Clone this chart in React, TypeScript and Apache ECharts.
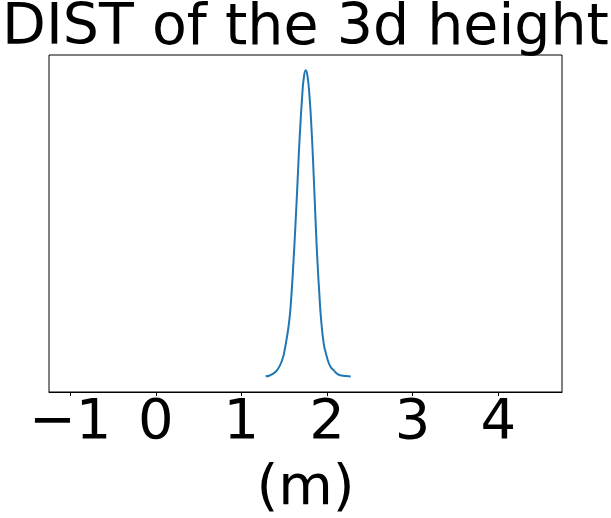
import React, { useEffect, useRef } from "react";
import * as echarts from "echarts";

const TITLE = "DIST of the 3d height";
const X_LABEL = "(m)";
const X_TICKS = [-1, 0, 1, 2, 3, 4];
const X_MIN = -1.248;
const X_MAX = 4.745;

// KDE curve (x in m, density)
const CURVE_X = [
  1.283, 1.33, 1.38, 1.412, 1.45, 1.48, 1.497, 1.53, 1.559, 1.58, 1.602, 1.63,
  1.657, 1.68, 1.711, 1.73, 1.751, 1.77, 1.793, 1.82, 1.84, 1.87, 1.887, 1.91,
  1.93, 1.96, 1.988, 2.02, 2.05, 2.082, 2.12, 2.17, 2.22, 2.277,
];
const CURVE_Y = [
  0.004, 0.015, 0.045, 0.075, 0.14, 0.22, 0.286, 0.48, 0.695, 0.95, 1.316, 1.86,
  2.45, 2.96, 3.5, 3.72, 3.8, 3.74, 3.51, 3.05, 2.6, 1.84, 1.45, 1.03, 0.72,
  0.42, 0.286, 0.17, 0.11, 0.075, 0.035, 0.015, 0.007, 0.003,
];
const Y_PEAK = 3.8;

export default function App() {
  const ref = useRef<HTMLDivElement>(null);
  useEffect(() => {
    if (!ref.current) return;
    const chart = echarts.init(ref.current, null, { renderer: "svg" });
    const font = "DejaVu Sans";
    chart.setOption({
      animation: false,
      backgroundColor: "#ffffff",
      title: {
        text: TITLE,
        left: "center",
        top: -10,
        textStyle: { fontFamily: font, fontSize: 57, fontWeight: "normal", color: "#000" },
      },
      grid: {
        left: 49,
        right: 49,
        top: 55,
        bottom: 126,
        containLabel: false,
        outerBoundsMode: "none",
        show: true,
        borderColor: "#000",
        borderWidth: 1,
        backgroundColor: "transparent",
      },
      xAxis: {
        type: "value",
        min: X_MIN,
        max: X_MAX,
        name: X_LABEL,
        nameLocation: "middle",
        nameGap: 64,
        nameTextStyle: { fontFamily: font, fontSize: 56, color: "#000" },
        axisLine: { show: true, onZero: false, lineStyle: { color: "#000", width: 1 } },
        axisTick: {
          show: true,
          length: 4,
          customValues: X_TICKS,
          lineStyle: { color: "#000", width: 1 },
        },
        axisLabel: {
          show: true,
          customValues: X_TICKS,
          margin: -2,
          fontFamily: font,
          fontSize: 56,
          color: "#000",
          formatter: (v: number) => (v < 0 ? "\u2212" + Math.abs(v) : String(v)),
        },
        splitLine: { show: false },
      },
      yAxis: {
        type: "value",
        min: -0.05 * Y_PEAK,
        max: 1.05 * Y_PEAK,
        axisLine: { show: false },
        axisTick: { show: false },
        axisLabel: { show: false },
        splitLine: { show: false },
      },
      series: [
        {
          type: "line",
          data: CURVE_X.map((x, i) => [x, CURVE_Y[i]]),
          smooth: 0.5,
          showSymbol: false,
          lineStyle: { color: "#1f77b4", width: 2 },
        },
      ],
    });
    return () => chart.dispose();
  }, []);
  return (
    <div
      ref={ref}
      style={{ position: "fixed", left: 0, top: 0, width: 611, height: 518 }}
    />
  );
}
